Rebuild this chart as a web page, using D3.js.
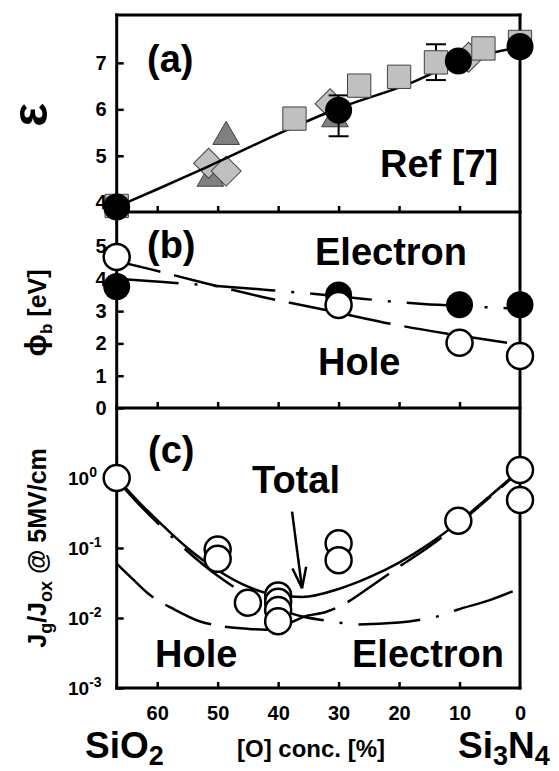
<!DOCTYPE html>
<html>
<head>
<meta charset="utf-8">
<script src="https://cdn.jsdelivr.net/npm/d3@7"></script>
<style>
  body { margin: 0; background: #fff; }
  text { font-family: "Liberation Sans", Arial, sans-serif; font-weight: bold; fill: #000; }
</style>
</head>
<body>
<svg id="chart" width="559" height="771"></svg>
<script>
// ---- data (x = [O] concentration, %) ----
const oTicks = [60, 50, 40, 30, 20, 10, 0];

// (a) dielectric constant
const epsFitX = [66.7, 60, 52.9, 38.6, 30.9, 18.2, 10.5, 0];
const epsFitY = [3.9, 4.28, 4.69, 5.55, 5.98, 6.56, 7.0, 7.34];
const squareX = [66.7, 37.3, 26.6, 20.0, 13.9, 6.05, 0];
const squareY = [3.92, 5.80, 6.51, 6.70, 7.01, 7.31, 7.45];
const diamondX = [51.5, 48.6, 31.4, 8.5];
const diamondY = [4.84, 4.67, 6.12, 7.12];
const triangleX = [48.6, 51.2, 30.6];
const triangleY = [5.41, 4.51, 5.79];
const dotX = [66.7, 30, 10.2, 0];
const dotY = [3.9, 5.98, 7.04, 7.35];
const errX = [30, 13.9];
const errLo = [5.42, 6.63];
const errHi = [6.3, 7.4];
const epsTicks = [4, 5, 6, 7];

// (b) barrier heights
const phiTicks = [0, 1, 2, 3, 4, 5];
const holePhiX = [66.7, 30, 10, 0];
const holePhiY = [4.68, 3.19, 2.02, 1.61];
const elecPhiX = [66.7, 30, 10, 0];
const elecPhiY = [3.76, 3.5, 3.2, 3.2];
const holeFitX = [66.7, 61.2, 53, 42.6, 30, 21.2, 11.6, 0];
const holeFitY = [4.55, 4.3, 3.91, 3.44, 2.95, 2.6, 2.29, 1.96];
const elecFitX = [66.7, 59, 41.3, 32.2, 26.9, 16, 7.7, 0];
const elecFitY = [4.0, 3.9, 3.65, 3.5, 3.4, 3.22, 3.14, 3.07];

// (c) Jg/Jox
const jTicks = [1e-3, 1e-2, 1e-1, 1];
const jX = [66.7, 50, 50, 45, 40, 40, 40, 40, 30, 30, 10.2, 0, 0];
const jY = [1.0, 0.095, 0.07, 0.0165, 0.021, 0.017, 0.013, 0.009, 0.117, 0.067, 0.245, 1.3, 0.485];
const totalX = [66.7, 63, 60, 55, 50, 45, 40, 36, 30, 25, 20, 15, 10, 5, 0];
const totalY = [1.0, 0.45, 0.25, 0.1, 0.048, 0.028, 0.021, 0.02, 0.026, 0.038, 0.062, 0.115, 0.24, 0.55, 1.3];
const elecJX = [66.7, 63, 60, 55, 50, 45, 40, 35.8, 32.2, 29.5, 26.7, 20, 16, 13.3, 10.5, 5, 0];
const elecJY = [0.95, 0.42, 0.23, 0.09, 0.04, 0.021, 0.0135, 0.0104, 0.0092, 0.0085, 0.0081, 0.0086, 0.0096, 0.0107, 0.013, 0.018, 0.0265];
const holeJX = [66.7, 63.9, 61.4, 57, 52.9, 50, 45, 42, 38.5, 35.8, 32, 29, 25, 20, 15, 10, 5, 0];
const holeJY = [0.06, 0.035, 0.022, 0.013, 0.0089, 0.0078, 0.007, 0.0068, 0.0082, 0.0104, 0.0123, 0.016, 0.027, 0.054, 0.105, 0.227, 0.53, 1.27];

// ---- scales ----
const svg = d3.select('#chart');
const X = d3.scaleLinear().domain([66.7, 0]).range([116.7, 520]);
const Ya = d3.scaleLinear().domain([3.79, 8.03]).range([212, 15]);
const Yb = d3.scaleLinear().domain([0, 6.07]).range([408, 212]);
const Yc = d3.scaleLog().domain([1e-3, 10]).range([688, 408]);

const zip = (xs, ys) => xs.map((x, i) => [x, ys[i]]);
const lineFor = Y => d3.line().x(d => X(d[0])).y(d => Y(d[1])).curve(d3.curveMonotoneX);

// ---- axes ----
function bottomTicks(Y, labels) {
  const ax = d3.axisBottom(X).tickValues(labels ? oTicks : oTicks.slice(0, 6))
    .tickSize(-6).tickPadding(18).tickFormat(labels ? d3.format('d') : '');
  const g = svg.append('g').attr('transform', `translate(0,${Y.range()[0]})`).call(ax);
  g.select('.domain').remove();
  g.selectAll('line').attr('stroke-width', 2.5);
  g.selectAll('text').style('font-size', '20px').attr('font-family', null);
  if (labels) g.selectAll('.tick').filter(d => d === 0).select('line').remove();
}
bottomTicks(Ya, false);
bottomTicks(Yb, false);
bottomTicks(Yc, true);

function leftTicks(Y, vals) {
  const g = svg.append('g').attr('transform', `translate(${X.range()[0]},0)`)
    .call(d3.axisLeft(Y).tickValues(vals).tickSize(-7).tickPadding(10).tickFormat(d3.format('d')));
  g.select('.domain').remove();
  g.selectAll('line').attr('stroke-width', 2.5);
  g.selectAll('text').style('font-size', '20px').attr('font-family', null);
  return g;
}
leftTicks(Ya, epsTicks);
leftTicks(Yb, phiTicks);
const gc = leftTicks(Yc, jTicks);
gc.selectAll('text').attr('text-anchor', 'start').attr('x', 68 - X.range()[0])
  .each(function (d) {
    const t = d3.select(this).text('').style('font-size', '19px');
    t.append('tspan').text('10');
    t.append('tspan').attr('dy', -8).style('font-size', '14px').text(Math.round(Math.log10(d)));
  });

// frame
const L = X.range()[0], R = X.range()[1];
const frame = svg.append('g').attr('stroke', '#000').attr('stroke-width', 3).attr('stroke-linecap', 'square');
frame.append('line').attr('x1', L).attr('x2', R).attr('y1', Ya.range()[1]).attr('y2', Ya.range()[1]);
[Ya.range()[0], Yb.range()[0], Yc.range()[0]].forEach(y =>
  frame.append('line').attr('x1', L).attr('x2', R).attr('y1', y).attr('y2', y));
frame.append('line').attr('x1', L).attr('x2', L).attr('y1', Ya.range()[1]).attr('y2', Yc.range()[0]);
frame.append('line').attr('x1', R).attr('x2', R).attr('y1', Ya.range()[1]).attr('y2', Yc.range()[0]);

// ---- panel (a) ----
const ga = svg.append('g');
ga.selectAll('path.tri').data(zip(triangleX, triangleY)).join('path')
  .attr('d', d3.symbol().type(d3.symbolTriangle).size(308))
  .attr('transform', d => `translate(${X(d[0])},${Ya(d[1])})`)
  .attr('fill', '#808080').attr('stroke', '#404040').attr('stroke-width', 1);
ga.selectAll('path.dia').data(zip(diamondX, diamondY)).join('path')
  .attr('d', d3.symbol().type(d3.symbolSquare).size(450))
  .attr('transform', d => `translate(${X(d[0])},${Ya(d[1])}) rotate(45)`)
  .attr('fill', '#c0c0c0').attr('stroke', '#404040').attr('stroke-width', 1);
ga.append('path').datum(zip(epsFitX, epsFitY)).attr('d', lineFor(Ya))
  .attr('fill', 'none').attr('stroke', '#000').attr('stroke-width', 2.5);
const eb = ga.selectAll('g.err').data(errX.map((x, i) => ({ x, lo: errLo[i], hi: errHi[i] }))).join('g')
  .attr('stroke', '#000').attr('stroke-width', 2);
eb.append('line').attr('x1', d => X(d.x)).attr('x2', d => X(d.x)).attr('y1', d => Ya(d.lo)).attr('y2', d => Ya(d.hi));
eb.append('line').attr('x1', d => X(d.x) - 10).attr('x2', d => X(d.x) + 10).attr('y1', d => Ya(d.lo)).attr('y2', d => Ya(d.lo));
eb.append('line').attr('x1', d => X(d.x) - 10).attr('x2', d => X(d.x) + 10).attr('y1', d => Ya(d.hi)).attr('y2', d => Ya(d.hi));
ga.selectAll('path.sq').data(zip(squareX, squareY)).join('path')
  .attr('d', d3.symbol().type(d3.symbolSquare).size(543))
  .attr('transform', d => `translate(${X(d[0])},${Ya(d[1])})`)
  .attr('fill', '#c0c0c0').attr('stroke', '#404040').attr('stroke-width', 1);
ga.selectAll('circle').data(zip(dotX, dotY)).join('circle')
  .attr('cx', d => X(d[0])).attr('cy', d => Ya(d[1])).attr('r', 13.5).attr('fill', '#000');

// ---- panel (b) ----
const gb = svg.append('g');
gb.append('path').datum(zip(holeFitX, holeFitY)).attr('d', lineFor(Yb))
  .attr('fill', 'none').attr('stroke', '#000').attr('stroke-width', 2.5).attr('stroke-dasharray', '45,14');
gb.append('path').datum(zip(elecFitX, elecFitY)).attr('d', lineFor(Yb))
  .attr('fill', 'none').attr('stroke', '#000').attr('stroke-width', 2.5).attr('stroke-dasharray', '62,16,3,16');
gb.selectAll('circle.e').data(zip(elecPhiX, elecPhiY)).join('circle')
  .attr('cx', d => X(d[0])).attr('cy', d => Yb(d[1])).attr('r', 13.5).attr('fill', '#000');
gb.selectAll('circle.h').data(zip(holePhiX, holePhiY)).join('circle')
  .attr('cx', d => X(d[0])).attr('cy', d => Yb(d[1])).attr('r', 13)
  .attr('fill', '#fff').attr('stroke', '#000').attr('stroke-width', 2.5);

// ---- panel (c) ----
const gcc = svg.append('g');
gcc.append('path').datum(zip(holeJX, holeJY)).attr('d', lineFor(Yc))
  .attr('fill', 'none').attr('stroke', '#000').attr('stroke-width', 2.5).attr('stroke-dasharray', '50,14');
gcc.append('path').datum(zip(elecJX, elecJY)).attr('d', lineFor(Yc))
  .attr('fill', 'none').attr('stroke', '#000').attr('stroke-width', 2.5).attr('stroke-dasharray', '62,16,3,16');
gcc.append('path').datum(zip(totalX, totalY)).attr('d', lineFor(Yc))
  .attr('fill', 'none').attr('stroke', '#000').attr('stroke-width', 2.5);
gcc.selectAll('circle').data(zip(jX, jY)).join('circle')
  .attr('cx', d => X(d[0])).attr('cy', d => Yc(d[1])).attr('r', 13)
  .attr('fill', '#fff').attr('stroke', '#000').attr('stroke-width', 2.5);

// arrow to the Total curve
const tail = [X(37.7), Yc(0.33)], tip = [X(36.05), Yc(0.0266)];
const ang = Math.atan2(tip[1] - tail[1], tip[0] - tail[0]);
svg.append('line').attr('x1', tail[0]).attr('y1', tail[1]).attr('x2', tip[0]).attr('y2', tip[1])
  .attr('stroke', '#000').attr('stroke-width', 2.5);
[-0.32, 0.32].forEach(a => svg.append('line')
  .attr('x1', tip[0]).attr('y1', tip[1])
  .attr('x2', tip[0] - 22 * Math.cos(ang + a)).attr('y2', tip[1] - 22 * Math.sin(ang + a))
  .attr('stroke', '#000').attr('stroke-width', 2.5));

// ---- texts ----
const label = (x, y, s, size) => svg.append('text').attr('x', x).attr('y', y).style('font-size', size + 'px').text(s);
label(147, 72, '(a)', 38);
label(380, 177, 'Ref [7]', 38);
label(147, 258, '(b)', 38);
label(315, 265, 'Electron', 38);
label(318, 375, 'Hole', 38);
label(148, 463, '(c)', 38);
label(252, 493, 'Total', 38);
label(155, 667, 'Hole', 38);
label(352, 667, 'Electron', 38);

// y titles
svg.append('text').attr('transform', 'translate(47,115) rotate(-90)').attr('text-anchor', 'middle')
  .style('font-size', '50px').text('ε');
const phiT = svg.append('text').attr('transform', 'translate(46,313) rotate(-90)').attr('text-anchor', 'middle')
  .style('font-size', '25px');
phiT.append('tspan').style('font-size', '30px').text('ϕ');
phiT.append('tspan').attr('dy', 6).style('font-size', '17px').text('b');
phiT.append('tspan').attr('dy', -6).text(' [eV]');
const jT = svg.append('text').attr('transform', 'translate(46,548) rotate(-90)').attr('text-anchor', 'middle')
  .style('font-size', '25px');
jT.append('tspan').text('J');
jT.append('tspan').attr('dy', 6).style('font-size', '18px').text('g');
jT.append('tspan').attr('dy', -6).text('/J');
jT.append('tspan').attr('dy', 6).style('font-size', '18px').text('ox');
jT.append('tspan').attr('dy', -6).text(' @ 5MV/cm');

// x titles
const sio = svg.append('text').attr('x', 85).attr('y', 758).style('font-size', '37px');
sio.append('tspan').text('SiO');
sio.append('tspan').attr('dy', 7).style('font-size', '27px').text('2');
const sin = svg.append('text').attr('x', 458).attr('y', 758).style('font-size', '37px');
sin.append('tspan').text('Si');
sin.append('tspan').attr('dy', 7).style('font-size', '27px').text('3');
sin.append('tspan').attr('dy', -7).text('N');
sin.append('tspan').attr('dy', 7).style('font-size', '27px').text('4');
label(237, 757, '[O] conc. [%]', 24);
</script>
</body>
</html>
